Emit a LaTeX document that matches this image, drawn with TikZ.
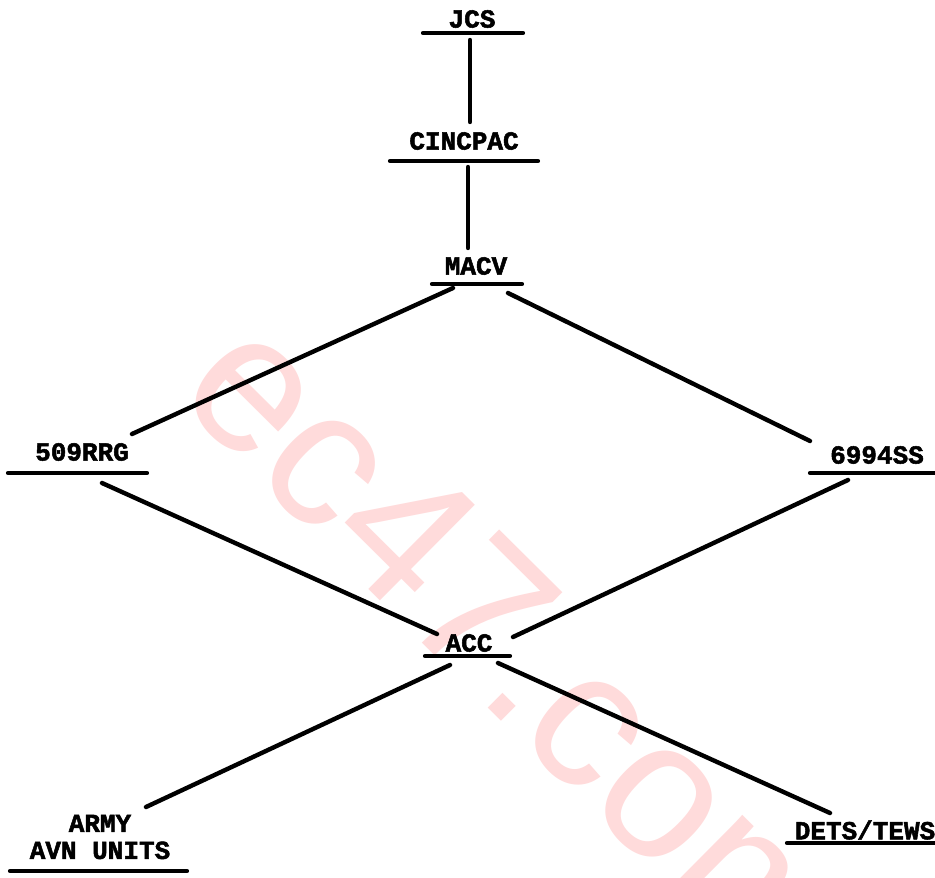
\documentclass[tikz,border=0pt]{standalone}
\usepackage{fontspec}
\newfontfamily\tw[BoldFont={Liberation Mono Bold},BoldFeatures={FakeBold=2}]{Liberation Mono}
\newfontfamily\wmfont{Liberation Sans}
\begin{document}
\begin{tikzpicture}[x=1pt,y=-1pt,
  lbl/.style={inner sep=0pt,font=\tw\bfseries\fontsize{26}{29}\selectfont},
  uline/.style={line width=4.2pt,line cap=round},
  conn/.style={line width=4.4pt,line cap=round},
  wm/.style={text=red!14,font=\wmfont\fontsize{196}{200}\selectfont,inner sep=0pt}]
\useasboundingbox (0,0) rectangle (935,878);
\fill[white] (0,0) rectangle (935,878);
% watermark
\node[wm,anchor=base,rotate=-44.8] (wmark) at (475,695) {ec47.com};
% labels
\node[lbl] (jcs) at (472,19) {JCS};
\node[lbl] (cincpac) at (464,141) {CINCPAC};
\node[lbl] (macv) at (476,266) {MACV};
\node[lbl] (rrg) at (82,452) {509RRG};
\node[lbl] (ss) at (877,455) {6994SS};
\node[lbl] (acc) at (469,643) {ACC};
\node[lbl,align=center] (army) at (100,837) {ARMY\\[-2pt]AVN UNITS};
\node[lbl] (dets) at (865,830) {DETS/TEWS};
% underlines
\draw[uline] (423,33) -- (523,33);
\draw[uline] (390,161) -- (538,161);
\draw[uline] (432,284) -- (522,284);
\draw[uline] (8,473) -- (147,473);
\draw[uline] (810,473) -- (935,473);
\draw[uline] (425,656) -- (510,656);
\draw[uline] (10,871) -- (187,871);
\draw[uline] (787,843) -- (935,843);
% connector end points
\coordinate (j1) at (470,40);
\coordinate (c0) at (470,122);
\coordinate (c1) at (468,167);
\coordinate (m0) at (468,248);
\coordinate (m1) at (453,288);
\coordinate (m2) at (508,293);
\coordinate (r0) at (132,434);
\coordinate (r1) at (102,483);
\coordinate (s0) at (810,441);
\coordinate (s1) at (848,480);
\coordinate (a0) at (437,634);
\coordinate (a1) at (513,637);
\coordinate (a2) at (450,665);
\coordinate (a3) at (498,663);
\coordinate (y0) at (146,807);
\coordinate (d0) at (830,813);
% connectors
\draw[conn] (j1) -- (c0);
\draw[conn] (c1) -- (m0);
\draw[conn] (m1) -- (r0);
\draw[conn] (m2) -- (s0);
\draw[conn] (r1) -- (a0);
\draw[conn] (s1) -- (a1);
\draw[conn] (a2) -- (y0);
\draw[conn] (a3) -- (d0);
\end{tikzpicture}
\end{document}
